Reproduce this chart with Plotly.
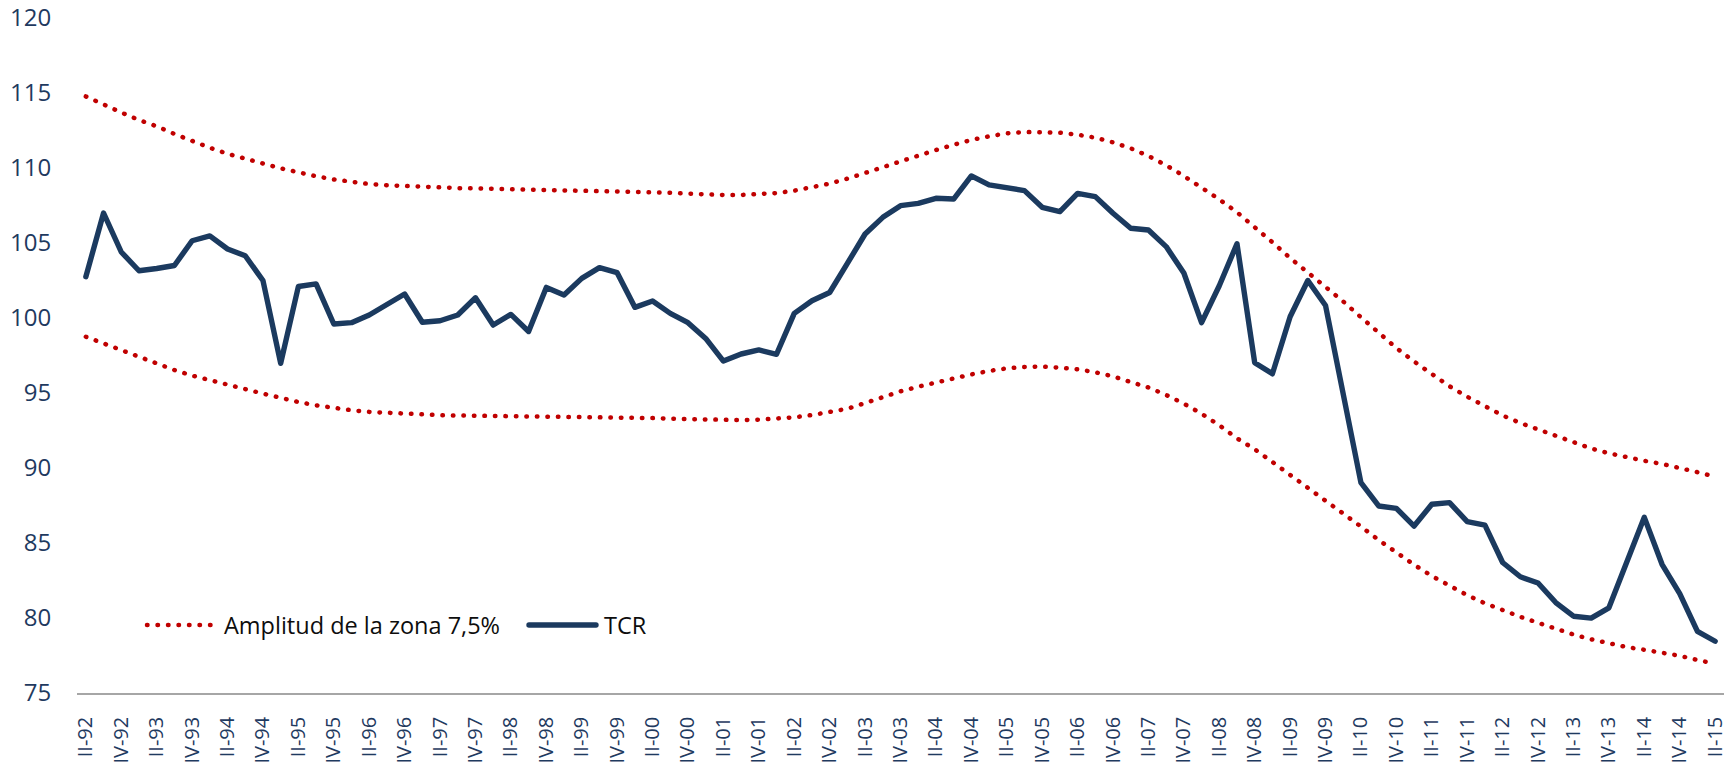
import plotly.graph_objects as go

years = list(range(92, 100)) + list(range(0, 16))
roman = ["I", "II", "III", "IV"]
quarters = [f"{roman[q]}-{y:02d}" for y in years for q in range(4)][1:94]

tick_labels = ["II-92", "IV-92", "II-93", "IV-93", "II-94", "IV-94", "II-95", "IV-95",
               "II-96", "IV-96", "II-97", "IV-97", "II-98", "IV-98", "II-99", "IV-99",
               "II-00", "IV-00", "II-01", "IV-01", "II-02", "IV-02", "II-03", "IV-03",
               "II-04", "IV-04", "II-05", "IV-05", "II-06", "IV-06", "II-07", "IV-07",
               "II-08", "IV-08", "II-09", "IV-09", "II-10", "IV-10", "II-11", "IV-11",
               "II-12", "IV-12", "II-13", "IV-13", "II-14", "IV-14", "II-15"]

tcr = [102.75, 107.0, 104.4, 103.15, 103.3, 103.5, 105.15, 105.47, 104.6, 104.15,
       102.5, 96.98, 102.1, 102.27, 99.6, 99.69, 100.2, 100.93, 101.6, 99.72,
       99.82, 100.2, 101.35, 99.53, 100.24, 99.1, 102.04, 101.53, 102.64, 103.36,
       103.02, 100.71, 101.13, 100.31, 99.69, 98.64, 97.13, 97.6, 97.87, 97.58,
       100.31, 101.15, 101.7, 103.64, 105.6, 106.71, 107.49, 107.64, 107.98, 107.93,
       109.47, 108.87, 108.71, 108.49, 107.38, 107.09, 108.31, 108.09, 106.98, 105.98,
       105.87, 104.76, 103.0, 99.69, 102.15, 104.95, 97.02, 96.28, 100.08, 102.5,
       100.83, 94.69, 89.02, 87.47, 87.31, 86.13, 87.58, 87.69, 86.43, 86.19,
       83.7, 82.75, 82.33, 81.03, 80.12, 79.99, 80.68, 83.7, 86.71, 83.58,
       81.63, 79.11, 78.45]

upper = [114.77, 114.2, 113.7, 113.2, 112.78, 112.27, 111.78, 111.35, 110.95, 110.6,
         110.3, 109.98, 109.68, 109.45, 109.24, 109.06, 108.93, 108.85, 108.79, 108.73,
         108.69, 108.66, 108.64, 108.62, 108.6, 108.56, 108.53, 108.52, 108.51, 108.5,
         108.48, 108.45, 108.41, 108.35, 108.29, 108.23, 108.2, 108.2, 108.24, 108.33,
         108.49, 108.69, 108.96, 109.29, 109.64, 110.05, 110.44, 110.85, 111.2, 111.55,
         111.87, 112.11, 112.31, 112.4, 112.41, 112.35, 112.22, 112.02, 111.71, 111.31,
         110.8, 110.18, 109.47, 108.71, 107.91, 107.05, 106.07, 105.05, 104.0, 103.05,
         102.1, 101.1, 100.05, 99.0, 98.0, 97.1, 96.27, 95.45, 94.75, 94.1,
         93.5, 93.0, 92.58, 92.12, 91.7, 91.3, 90.98, 90.7, 90.48, 90.27,
         90.02, 89.72, 89.42]

lower = [98.75, 98.29, 97.84, 97.4, 96.95, 96.53, 96.16, 95.84, 95.53, 95.26,
         94.96, 94.66, 94.4, 94.18, 94.0, 93.85, 93.74, 93.67, 93.61, 93.56,
         93.52, 93.5, 93.49, 93.48, 93.47, 93.44, 93.42, 93.41, 93.4, 93.39,
         93.38, 93.36, 93.33, 93.29, 93.25, 93.21, 93.19, 93.19, 93.22, 93.29,
         93.38, 93.53, 93.74, 93.95, 94.33, 94.75, 95.11, 95.42, 95.71, 96.0,
         96.24, 96.47, 96.64, 96.73, 96.76, 96.69, 96.58, 96.38, 96.11, 95.73,
         95.37, 94.87, 94.29, 93.62, 92.85, 91.98, 91.25, 90.4, 89.55, 88.7,
         87.86, 87.0, 86.1, 85.2, 84.35, 83.55, 82.8, 82.12, 81.52, 80.98,
         80.5, 80.08, 79.68, 79.28, 78.9, 78.58, 78.3, 78.06, 77.88, 77.7,
         77.48, 77.2, 76.95]

y_ticks = [75, 80, 85, 90, 95, 100, 105, 110, 115, 120]

RED = "#C00000"
NAVY = "#1B3A5F"
TICK = "#1F3A5F"
FONT = "Open Sans"
DOT = "0.5px,10px"

fig = go.Figure()
fig.add_trace(go.Scatter(x=quarters, y=upper, mode="lines", name="Amplitud de la zona 7,5%",
                         line=dict(color=RED, width=4.5, dash=DOT), showlegend=False,
                         hoverinfo="skip"))
fig.add_trace(go.Scatter(x=quarters, y=lower, mode="lines", name="Amplitud de la zona 7,5%",
                         line=dict(color=RED, width=4.5, dash=DOT), showlegend=False,
                         hoverinfo="skip"))
fig.add_trace(go.Scatter(x=quarters, y=tcr, mode="lines", name="TCR",
                         line=dict(color=NAVY, width=5.4), showlegend=False))

# legend drawn manually (long samples like the original)
W, H, L, T, R, B = 1733, 766, 77, 18, 9, 73
pw, ph = W - L - R, H - T - B
def px(v):
    return (v - L) / pw
def py(v):
    return (H - B - v) / ph

leg_y = py(625)
fig.add_shape(type="line", xref="paper", yref="paper", x0=px(147), x1=px(218), y0=leg_y, y1=leg_y,
              line=dict(color=RED, width=4.5, dash=DOT))
fig.add_shape(type="line", xref="paper", yref="paper", x0=px(529), x1=px(596), y0=leg_y, y1=leg_y,
              line=dict(color=NAVY, width=5.4))
fig.add_annotation(text="Amplitud de la zona 7,5%", xref="paper", yref="paper", x=px(222), y=leg_y,
                   xanchor="left", yanchor="middle", showarrow=False,
                   font=dict(family=FONT, size=23.5, color="#0D0D0D"))
fig.add_annotation(text="TCR", xref="paper", yref="paper", x=px(602), y=leg_y,
                   xanchor="left", yanchor="middle", showarrow=False,
                   font=dict(family=FONT, size=23.5, color="#0D0D0D"))

fig.update_layout(
    width=W, height=H,
    margin=dict(l=L, r=R, t=T, b=B, autoexpand=False),
    paper_bgcolor="white", plot_bgcolor="white",
    font=dict(family=FONT, color=TICK),
    showlegend=False,
)
fig.update_xaxes(type="category", range=[-0.5, len(quarters) - 0.5], automargin=False,
                 tickmode="array", tickvals=quarters[::2], ticktext=tick_labels,
                 tickangle=-90, tickfont=dict(family=FONT, size=20, color=TICK),
                 showgrid=False, zeroline=False, showline=True, linecolor="#A6A6A6", linewidth=1.5,
                 ticks="outside", ticklen=14, tickcolor="rgba(0,0,0,0)")
fig.update_yaxes(range=[75, 120], tickmode="array", tickvals=y_ticks, automargin=False,
                 tickfont=dict(family=FONT, size=24, color=TICK),
                 showgrid=False, zeroline=False, showline=False,
                 ticks="outside", ticklen=20, tickcolor="rgba(0,0,0,0)")

post = """
(function(){
  document.documentElement.style.margin = '0';
  document.body.style.margin = '0';
  document.body.style.padding = '0';
  document.body.style.overflow = 'hidden';
  var gd = document.getElementById('{plot_id}');
  function fix(){
    gd.querySelectorAll('path').forEach(function(p){
      var d = p.style.strokeDasharray || p.getAttribute('stroke-dasharray');
      if (d && d !== 'none') { p.style.strokeLinecap = 'round'; }
    });
    gd.querySelectorAll('.js-line').forEach(function(p){ p.style.strokeLinejoin = 'round'; p.style.strokeLinecap = 'round'; });
    gd.querySelectorAll('.shapelayer path').forEach(function(p){ p.style.strokeLinecap = 'round'; });
  }
  fix();
  gd.on && gd.on('plotly_afterplot', fix);
})();
"""
fig.write_html("out.html", post_script=post, config={"displayModeBar": False})
